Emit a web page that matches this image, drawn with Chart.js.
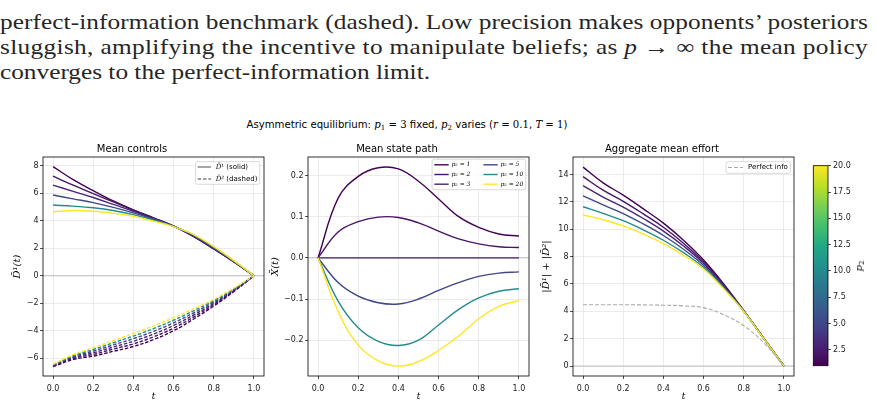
<!DOCTYPE html>
<html>
<head>
<meta charset="utf-8">
<script src="https://cdn.jsdelivr.net/npm/chart.js@4.4.0/dist/chart.umd.min.js"></script>
<style>
body { margin: 0; background: #fff; width: 876px; height: 407px; overflow: hidden; position: relative; }
canvas { position: absolute; }
.para { position: absolute; left: 0; font-family: 'Liberation Serif', serif; font-size: 21px; line-height: 25px;
        white-space: nowrap; transform-origin: 0 0; color: #262626; }
#suptitle { position: absolute; left: 407px; top: 119px; transform: translateX(-50%); font-family: 'DejaVu Sans', sans-serif;
            font-size: 10.15px; line-height: 12px; white-space: nowrap; color: #000; }
.m { font-family: 'DejaVu Serif', serif; }
.m sub, #cbarLabel sub { font-size: 70%; vertical-align: -2px; line-height: 0; font-style: normal; }
#cbarLabel { position: absolute; left: 859px; top: 266px; transform: translate(-50%, -50%) rotate(-90deg);
             font-family: 'DejaVu Serif', serif; font-size: 10px; line-height: 12px; white-space: nowrap; }
</style>
</head>
<body>
<div class="para" id="line1" style="top:10px">perfect-information benchmark (dashed). Low precision makes opponents’ posteriors</div>
<div class="para" id="line2" style="top:35px">sluggish, amplifying the incentive to manipulate beliefs; as <i>p</i> → ∞ the mean policy</div>
<div class="para" id="line3" style="top:60px">converges to the perfect-information limit.</div>

<div id="suptitle">Asymmetric equilibrium: <span class="m"><i>p</i><sub>1</sub> = 3</span> fixed, <span class="m"><i>p</i><sub>2</sub></span> varies (<span class="m"><i>r</i> = 0.1</span>, <span class="m"><i>T</i> = 1</span>)</div>

<canvas id="controls" width="275" height="267" style="left:0px;top:140px"></canvas>
<canvas id="state" width="275" height="267" style="left:265px;top:140px"></canvas>
<canvas id="effort" width="275" height="267" style="left:530px;top:140px"></canvas>
<canvas id="cbar" width="76" height="257" style="left:800px;top:150px"></canvas>
<div id="cbarLabel"><i>p</i><sub>2</sub></div>

<script>
// time grid and the precision values p2
const tVals = [0, 0.1, 0.2, 0.3, 0.4, 0.5, 0.6, 0.7, 0.8, 0.9, 1.0];
const p2Vals = [1, 2, 3, 5, 10, 20];
const p2Colors = ['#440154', '#471466', '#482576', '#3f4788', '#238a8d', '#fde725'];

// mean controls, one row per p2 (solid = player 1, dashed = player 2)
const d1Solid = [
    [7.95, 7.0, 6.2, 5.45, 4.8, 4.22, 3.62, 2.85, 1.95, 1.0, 0],
    [7.25, 6.6, 5.98, 5.38, 4.77, 4.2, 3.62, 2.87, 1.98, 1.02, 0],
    [6.6, 6.15, 5.7, 5.2, 4.7, 4.17, 3.62, 2.9, 2.0, 1.03, 0],
    [5.88, 5.6, 5.33, 4.98, 4.58, 4.12, 3.62, 2.93, 2.03, 1.05, 0],
    [5.15, 5.07, 4.95, 4.75, 4.45, 4.05, 3.6, 2.97, 2.08, 1.08, 0],
    [4.65, 4.75, 4.7, 4.55, 4.33, 3.98, 3.58, 3.0, 2.12, 1.1, 0]
];
const d2Dashed = [
    [-6.62, -6.1, -5.85, -5.5, -5.15, -4.65, -4.0, -3.15, -2.2, -1.15, 0],
    [-6.59, -6.03, -5.73, -5.34, -4.96, -4.45, -3.81, -3.0, -2.1, -1.1, 0],
    [-6.55, -5.96, -5.61, -5.19, -4.77, -4.25, -3.62, -2.85, -2.01, -1.05, 0],
    [-6.52, -5.89, -5.49, -5.03, -4.58, -4.05, -3.43, -2.7, -1.91, -1.0, 0],
    [-6.48, -5.82, -5.37, -4.88, -4.39, -3.85, -3.24, -2.55, -1.82, -0.95, 0],
    [-6.45, -5.75, -5.25, -4.72, -4.2, -3.65, -3.05, -2.4, -1.72, -0.9, 0]
];

// mean state path
const meanState = [
    [0, 0.145, 0.198, 0.219, 0.216, 0.186, 0.143, 0.1, 0.074, 0.058, 0.053],
    [0, 0.063, 0.088, 0.099, 0.098, 0.085, 0.065, 0.046, 0.034, 0.027, 0.025],
    [0, 0, 0, 0, 0, 0, 0, 0, 0, 0, 0],
    [0, -0.06, -0.093, -0.109, -0.112, -0.1, -0.079, -0.06, -0.045, -0.037, -0.034],
    [0, -0.105, -0.17, -0.203, -0.213, -0.2, -0.163, -0.125, -0.097, -0.081, -0.075],
    [0, -0.13, -0.212, -0.25, -0.263, -0.252, -0.225, -0.19, -0.148, -0.118, -0.104]
];

// aggregate mean effort |D1| + |D2|
const aggEffort = [
    [14.55, 13.4, 12.5, 11.5, 10.45, 9.2, 7.75, 6.0, 4.05, 2.02, 0],
    [13.85, 12.86, 12.05, 11.13, 10.15, 8.98, 7.62, 5.93, 4.04, 2.02, 0],
    [13.2, 12.36, 11.63, 10.79, 9.87, 8.78, 7.5, 5.86, 4.03, 2.01, 0],
    [12.45, 11.78, 11.15, 10.39, 9.55, 8.54, 7.36, 5.79, 4.02, 2.01, 0],
    [11.65, 11.16, 10.63, 9.96, 9.2, 8.29, 7.21, 5.71, 4.01, 2.0, 0],
    [11.05, 10.7, 10.25, 9.65, 8.95, 8.1, 7.1, 5.65, 4.0, 2.0, 0]
];
const perfectInfo = [4.48, 4.48, 4.48, 4.47, 4.45, 4.4, 4.27, 3.75, 2.95, 1.7, 0];

// tick labels
const xTicks = [0, 0.2, 0.4, 0.6, 0.8, 1.0];
const ctrlTicks = [-6, -4, -2, 0, 2, 4, 6, 8];
const stateTicks = [-0.2, -0.1, 0, 0.1, 0.2];
const effortTicks = [0, 2, 4, 6, 8, 10, 12, 14];
const cbarTicks = [2.5, 5, 7.5, 10, 12.5, 15, 17.5, 20];

const viridisStops = ['#440154', '#482475', '#414487', '#355f8d', '#2a788e', '#21918c',
                      '#22a884', '#44bf70', '#7ad151', '#bddf26', '#fde725'];

const sansFont = "'DejaVu Sans', sans-serif";
const mathFont = "'DejaVu Serif', serif";
Chart.defaults.font.family = sansFont;
Chart.defaults.color = '#222';

function fmt(v, d) {
    const s = Math.abs(v).toFixed(d);
    return v < -1e-9 ? '\u2212' + s : s;
}

function points(arr) {
    return tVals.map((t, k) => ({ x: t, y: arr[k] }));
}

// box around the axes, like matplotlib spines
const frame = {
    id: 'frame',
    afterDatasetsDraw(chart) {
        const { ctx, chartArea: ca } = chart;
        ctx.save();
        ctx.strokeStyle = '#000';
        ctx.lineWidth = 0.8;
        ctx.strokeRect(ca.left, ca.top, ca.right - ca.left, ca.bottom - ca.top);
        ctx.restore();
    }
};

// grey reference line at y = 0
const zeroLine = {
    id: 'zeroLine',
    beforeDatasetsDraw(chart, args, o) {
        if (!o.show) return;
        const { ctx, chartArea: ca } = chart;
        const py = chart.scales.y.getPixelForValue(0);
        ctx.save();
        ctx.strokeStyle = '#b8b8b8';
        ctx.lineWidth = 0.9;
        ctx.beginPath();
        ctx.moveTo(ca.left, py);
        ctx.lineTo(ca.right, py);
        ctx.stroke();
        ctx.restore();
    }
};

// colour bar fill
const cbarFill = {
    id: 'cbarFill',
    beforeDatasetsDraw(chart, args, o) {
        if (!o.show) return;
        const { ctx, chartArea: ca } = chart;
        const g = ctx.createLinearGradient(0, ca.bottom, 0, ca.top);
        viridisStops.forEach((c, i) => g.addColorStop(i / (viridisStops.length - 1), c));
        ctx.save();
        ctx.fillStyle = g;
        ctx.fillRect(ca.left, ca.top, ca.right - ca.left, ca.bottom - ca.top);
        ctx.restore();
    }
};

function partFont(p, size) {
    return (p.math ? 'italic ' : '') + size + 'px ' + (p.math ? mathFont : sansFont);
}

// matplotlib-like legend box in the upper right corner
const mplLegend = {
    id: 'mplLegend',
    afterDatasetsDraw(chart, args, o) {
        if (!o.items) return;
        const { ctx, chartArea: ca } = chart;
        ctx.save();
        const widths = o.items.map(it => it.parts.reduce((s, p) => {
            ctx.font = partFont(p, o.size);
            return s + ctx.measureText(p.t).width;
        }, 0));
        const nrows = Math.ceil(o.items.length / o.ncol);
        const colW = [];
        for (let c = 0; c < o.ncol; c++) {
            let w = 0;
            for (let r = 0; r < nrows; r++) {
                const i = c * nrows + r;
                if (i < o.items.length) w = Math.max(w, widths[i]);
            }
            colW.push(w);
        }
        const boxW = o.padL + colW.reduce((s, w) => s + o.handleLen + o.gap + w, 0) + (o.ncol - 1) * o.colGap + o.padR;
        const boxH = (nrows - 1) * o.rowH + 2 * o.padV;
        const x0 = ca.right - o.insetX - boxW;
        const y0 = ca.top + o.insetY;
        ctx.beginPath();
        ctx.roundRect(x0, y0, boxW, boxH, 2);
        ctx.fillStyle = 'rgba(255,255,255,0.85)';
        ctx.fill();
        ctx.strokeStyle = '#d0d0d0';
        ctx.lineWidth = 0.8;
        ctx.stroke();
        let cx = x0 + o.padL;
        for (let c = 0; c < o.ncol; c++) {
            for (let r = 0; r < nrows; r++) {
                const it = o.items[c * nrows + r];
                if (!it) continue;
                const y = y0 + o.padV + r * o.rowH;
                ctx.strokeStyle = it.color;
                ctx.lineWidth = it.width || 1.4;
                ctx.setLineDash(it.dash || []);
                ctx.beginPath();
                ctx.moveTo(cx, y);
                ctx.lineTo(cx + o.handleLen, y);
                ctx.stroke();
                ctx.setLineDash([]);
                let tx = cx + o.handleLen + o.gap;
                ctx.fillStyle = '#000';
                ctx.textBaseline = 'middle';
                it.parts.forEach(p => {
                    ctx.font = partFont(p, o.size);
                    ctx.fillText(p.t, tx, y);
                    tx += ctx.measureText(p.t).width;
                });
            }
            cx += o.handleLen + o.gap + colW[c] + o.colGap;
        }
        ctx.restore();
    }
};

Chart.register(frame, zeroLine, cbarFill, mplLegend);

function panelOptions(p) {
    return {
        responsive: false,
        animation: false,
        layout: { padding: { left: 0, right: 11, top: 0, bottom: 0 } },
        plugins: {
            legend: { display: false },
            tooltip: { enabled: false },
            title: { display: true, text: p.title, color: '#000', font: { size: 10, weight: 'normal' }, padding: { top: 3, bottom: 2 } },
            zeroLine: { show: true },
            mplLegend: p.legend
        },
        scales: {
            x: {
                type: 'linear', min: -0.05, max: 1.05,
                afterBuildTicks: s => { s.ticks = xTicks.map(v => ({ value: v })); },
                afterFit: s => { s.height = 31; },
                ticks: { font: { size: 8 }, color: '#222', padding: 5.5, maxRotation: 0, autoSkip: false, callback: v => fmt(v, 1) },
                grid: { color: '#e6e6e6', lineWidth: 0.8, tickColor: '#222', tickLength: 3, tickWidth: 0.8 },
                border: { display: false },
                title: { display: true, text: 't', color: '#000', font: { family: mathFont, style: 'italic', size: 9 }, padding: { top: 0, bottom: 4.5 } }
            },
            y: {
                type: 'linear', min: p.yMin, max: p.yMax,
                afterBuildTicks: s => { s.ticks = p.yTicks.map(v => ({ value: v })); },
                afterFit: s => { s.width = 43; },
                ticks: { font: { size: 8 }, color: '#222', padding: 1.5, autoSkip: false, callback: v => fmt(v, p.yDec) },
                grid: { color: '#e6e6e6', lineWidth: 0.8, tickColor: '#222', tickLength: 3, tickWidth: 0.8 },
                border: { display: false },
                title: { display: true, text: p.yTitle, color: '#000', font: { family: mathFont, style: 'italic', size: 10 }, padding: { top: p.yTitlePad, bottom: 0 } }
            }
        }
    };
}

function lineSet(arr, color, order, dash, width) {
    return {
        data: points(arr),
        borderColor: color,
        borderWidth: width || 1.4,
        borderDash: dash || [],
        pointRadius: 0,
        tension: 0.4,
        fill: false,
        order: order
    };
}

// panel 1: mean controls
const ctrlSets = [];
p2Vals.forEach((p, i) => {
    ctrlSets.push(lineSet(d1Solid[i], p2Colors[i], 100 - 2 * i));
    ctrlSets.push(lineSet(d2Dashed[i], p2Colors[i], 99 - 2 * i, [3.5, 1.8]));
});
new Chart(document.getElementById('controls'), {
    type: 'line',
    data: { datasets: ctrlSets },
    options: panelOptions({
        title: 'Mean controls', yMin: -7.3, yMax: 8.65, yTicks: ctrlTicks, yDec: 0,
        yTitle: 'D\u0304\u00B9(t)', yTitlePad: 11,
        legend: {
            size: 7, ncol: 1, rowH: 12, padV: 5.3, padL: 2.3, padR: 2.3, handleLen: 13.3, gap: 4.7, colGap: 0,
            insetX: 4.3, insetY: 4.7,
            items: [
                { color: '#808080', parts: [{ t: 'D\u0304\u00B9', math: true }, { t: ' (solid)' }] },
                { color: '#808080', dash: [3.5, 1.8], parts: [{ t: 'D\u0304\u00B2', math: true }, { t: ' (dashed)' }] }
            ]
        }
    })
});

// panel 2: mean state path
new Chart(document.getElementById('state'), {
    type: 'line',
    data: { datasets: p2Vals.map((p, i) => lineSet(meanState[i], p2Colors[i], 100 - i)) },
    options: panelOptions({
        title: 'Mean state path', yMin: -0.287, yMax: 0.245, yTicks: stateTicks, yDec: 1,
        yTitle: 'X\u0304(t)', yTitlePad: 4.3,
        legend: {
            size: 6, ncol: 2, rowH: 9.7, padV: 5.5, padL: 2.3, padR: 2.5, handleLen: 14.3, gap: 2.8, colGap: 13,
            insetX: 3.3, insetY: 2.3,
            items: p2Vals.map((p, i) => ({ color: p2Colors[i], parts: [{ t: 'p\u2082 = ' + p, math: true }] }))
        }
    })
});

// panel 3: aggregate mean effort
const effortSets = p2Vals.map((p, i) => lineSet(aggEffort[i], p2Colors[i], 100 - i));
effortSets.push(lineSet(perfectInfo, '#aaaaaa', 50, [4, 2], 1.1));
new Chart(document.getElementById('effort'), {
    type: 'line',
    data: { datasets: effortSets },
    options: panelOptions({
        title: 'Aggregate mean effort', yMin: -0.73, yMax: 15.29, yTicks: effortTicks, yDec: 0,
        yTitle: '|D\u0304\u00B9| + |D\u0304\u00B2|', yTitlePad: 10.7,
        legend: {
            size: 7, ncol: 1, rowH: 12, padV: 5.8, padL: 2, padR: 2.5, handleLen: 15, gap: 5, colGap: 0,
            insetX: 3.6, insetY: 4.7,
            items: [{ color: '#aaaaaa', dash: [4, 2], width: 1.1, parts: [{ t: 'Perfect info' }] }]
        }
    })
});

// colour bar for p2
new Chart(document.getElementById('cbar'), {
    type: 'line',
    data: { datasets: [] },
    options: {
        responsive: false,
        animation: false,
        layout: { padding: { left: 13.3, right: 0, top: 15.7, bottom: 41.3 } },
        plugins: { legend: { display: false }, tooltip: { enabled: false }, cbarFill: { show: true } },
        scales: {
            x: { display: false, type: 'linear', min: 0, max: 1 },
            y: {
                position: 'right', type: 'linear', min: 1, max: 20,
                afterBuildTicks: s => { s.ticks = cbarTicks.map(v => ({ value: v })); },
                afterFit: s => { s.width = 48; },
                ticks: { font: { size: 8 }, color: '#222', padding: 2, autoSkip: false, callback: v => fmt(v, 1) },
                grid: { drawOnChartArea: false, tickColor: '#222', tickLength: 3, tickWidth: 0.8 },
                border: { display: false }
            }
        }
    }
});

// one glyph scale for the paragraph, set by the short last line;
// the first two lines are justified to the full width with letter spacing
function fitParagraph() {
    const paraLines = ['line1', 'line2', 'line3'].map(id => document.getElementById(id));
    paraLines.forEach(el => { el.style.transform = 'none'; el.style.letterSpacing = '0px'; });
    const glyphScale = 430 / paraLines[2].getBoundingClientRect().width;
    paraLines.forEach(el => { el.style.transform = 'scaleX(' + glyphScale + ')'; });
    paraLines.slice(0, 2).forEach(el => {
        const w = el.getBoundingClientRect().width;
        const n = el.textContent.length;
        el.style.letterSpacing = ((868 - w) / glyphScale / n) + 'px';
    });
}
fitParagraph();
document.fonts.load("21px 'Liberation Serif'").then(fitParagraph);
document.fonts.ready.then(fitParagraph);
</script>
</body>
</html>
